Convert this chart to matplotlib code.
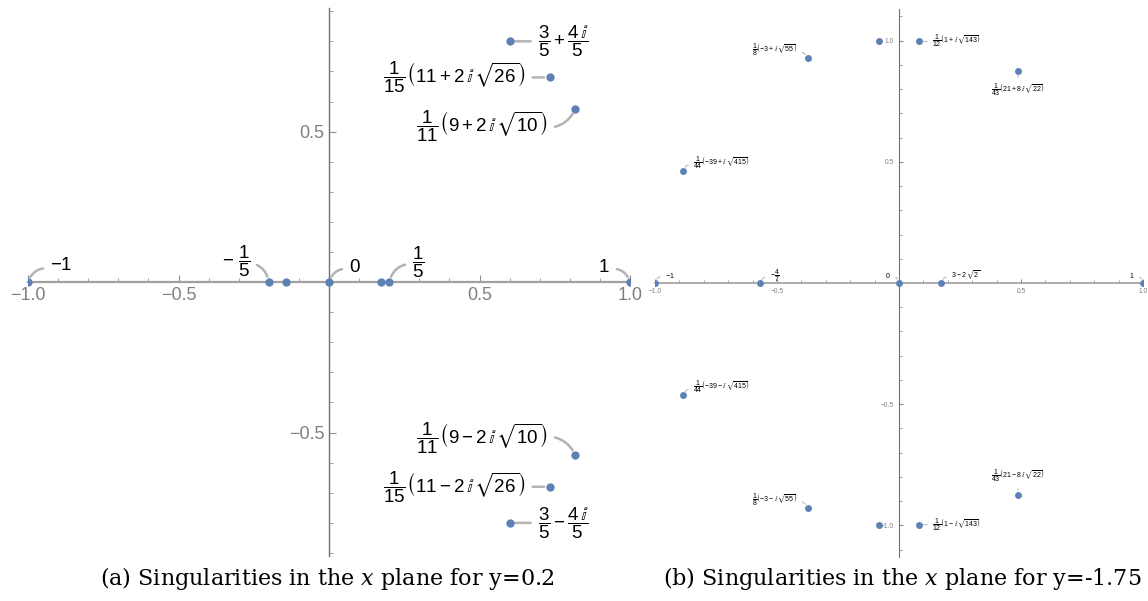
import matplotlib
matplotlib.use('Agg')
import matplotlib.pyplot as plt

plt.rcParams['mathtext.fontset'] = 'custom'
plt.rcParams['mathtext.rm'] = 'Liberation Sans'
plt.rcParams['mathtext.it'] = 'Liberation Sans:italic'
plt.rcParams['mathtext.bf'] = 'Liberation Sans:bold'
plt.rcParams['mathtext.sf'] = 'Liberation Sans'
plt.rcParams['mathtext.fallback'] = 'stixsans'
plt.rcParams['font.family'] = ['Liberation Sans', 'DejaVu Sans']

# ---------------- data ----------------
# panel (a): y = 0.2
a_re = [-1.0, -0.2, -0.143, 0.0, 0.172, 0.2, 1.0,
        0.6, 0.733, 0.818, 0.818, 0.733, 0.6]
a_im = [0.0, 0.0, 0.0, 0.0, 0.0, 0.0, 0.0,
        0.8, 0.680, 0.575, -0.575, -0.680, -0.8]
a_labels = [r'$-1$', r'$-\ \dfrac{1}{5}$', None, r'$0$', None, r'$\dfrac{1}{5}$', r'$1$',
            r'$\dfrac{3}{5}+\dfrac{4\,\mathbb{i}}{5}$',
            r'$\dfrac{1}{15}\left(11+2\,\mathbb{i}\,\sqrt{26}\right)$',
            r'$\dfrac{1}{11}\left(9+2\,\mathbb{i}\,\sqrt{10}\right)$',
            r'$\dfrac{1}{11}\left(9-2\,\mathbb{i}\,\sqrt{10}\right)$',
            r'$\dfrac{1}{15}\left(11-2\,\mathbb{i}\,\sqrt{26}\right)$',
            r'$\dfrac{3}{5}-\dfrac{4\,\mathbb{i}}{5}$']

# panel (b): y = -1.75
b_re = [-1.0, -0.571, 0.0, 0.1716, 1.0,
        0.0833, 0.0833, -0.0833, -0.0833,
        0.488, 0.488, -0.375, -0.375, -0.886, -0.886]
b_im = [0.0, 0.0, 0.0, 0.0, 0.0,
        0.9965, -0.9965, 0.9965, -0.9965,
        0.873, -0.873, 0.927, -0.927, 0.463, -0.463]
b_labels = [r'$-1$', r'$-\dfrac{4}{7}$', r'$0$', r'$3-2\,\sqrt{2}$', r'$1$',
            r'$\dfrac{1}{12}\left(1+\mathbb{i}\,\sqrt{143}\right)$',
            r'$\dfrac{1}{12}\left(1-\mathbb{i}\,\sqrt{143}\right)$',
            None, None,
            r'$\dfrac{1}{43}\left(21+8\,\mathbb{i}\,\sqrt{22}\right)$',
            r'$\dfrac{1}{43}\left(21-8\,\mathbb{i}\,\sqrt{22}\right)$',
            r'$\dfrac{1}{8}\left(-3+\mathbb{i}\,\sqrt{55}\right)$',
            r'$\dfrac{1}{8}\left(-3-\mathbb{i}\,\sqrt{55}\right)$',
            r'$\dfrac{1}{44}\left(-39+\mathbb{i}\,\sqrt{415}\right)$',
            r'$\dfrac{1}{44}\left(-39-\mathbb{i}\,\sqrt{415}\right)$']

x_major = [-1.0, -0.5, 0.5, 1.0]
x_major_labels = ['\u22121.0', '\u22120.5', '0.5', '1.0']
y_major_a = [-0.5, 0.5]
y_major_a_labels = ['\u22120.5', '0.5']
y_major_b = [-1.0, -0.5, 0.5, 1.0]
y_major_b_labels = ['\u22121.0', '\u22120.5', '0.5', '1.0']

captions = ['(a) Singularities in the $x$ plane for y=0.2',
            '(b) Singularities in the $x$ plane for y=-1.75']

# ---------------- style / layout ----------------
DOT = '#5E81B5'
LEAD = '#b3b3b3'

# label placement: (offset px x, offset px y, h-align, curvature, leader start on text box)
a_place = [(22, 17, 'left', 0.4, (0.0, 0.3)), (-33, 21, 'center', -0.4, (0.9, 0.45)), None,
           (20, 15, 'left', 0.4, (0.0, 0.4)), None,
           (29, 20, 'center', 0.4, (0.1, 0.45)), (-20, 15, 'right', -0.4, (1.0, 0.4)),
           (28, 0, 'left', 0.0, (0.0, 0.5)), (-24, 0, 'right', 0.0, (1.0, 0.5)),
           (-27, -17, 'right', 0.3, (1.0, 0.45)),
           (-27, 17, 'right', -0.3, (1.0, 0.55)), (-24, 0, 'right', 0.0, (1.0, 0.5)),
           (28, 0, 'left', 0.0, (0.0, 0.5))]
b_place = [(10, 8, 'left', 0.4, (0.0, 0.4)), (10, 7, 'left', 0.4, (0.0, 0.45)),
           (-8, 8, 'right', -0.4, (1.0, 0.4)), (10, 8, 'left', 0.4, (0.0, 0.4)),
           (-8, 8, 'right', -0.4, (1.0, 0.4)),
           (13, 0, 'left', 0.0, (0.0, 0.5)), (13, 0, 'left', 0.0, (0.0, 0.5)), None, None,
           (0, -19, 'center', 0.0, (0.5, 1.0)), (0, 19, 'center', 0.0, (0.5, 0.0)),
           (-10, 8, 'right', -0.3, (1.0, 0.45)), (-10, 8, 'right', -0.3, (1.0, 0.45)),
           (10, 8, 'left', 0.3, (0.0, 0.45)), (10, 8, 'left', 0.3, (0.0, 0.45))]

W, H = 1148, 601
fig = plt.figure(figsize=(W / 100, H / 100), dpi=100)

axA = fig.add_axes([28 / W, (H - 556) / H, 602 / W, 547.8 / H])
axB = fig.add_axes([655 / W, (H - 557) / H, 488 / W, 548 / H])


def setup(ax, ylim, ymaj, ymaj_lab, ymin_range, fs, maj_len, min_len, lw_x, lw_y):
    ax.set_xlim(-1, 1)
    ax.set_ylim(-ylim, ylim)
    for s in ['top', 'right']:
        ax.spines[s].set_visible(False)
    ax.spines['left'].set_position('zero')
    ax.spines['bottom'].set_position('zero')
    ax.spines['left'].set_color('#707070')
    ax.spines['bottom'].set_color('#a0a0a0')
    ax.spines['left'].set_linewidth(lw_y)
    ax.spines['bottom'].set_linewidth(lw_x)
    ax.set_xticks(x_major)
    ax.set_xticklabels(x_major_labels)
    ax.set_xticks([k / 10 for k in range(-9, 10) if k not in (-5, 0, 5)], minor=True)
    ax.set_yticks(ymaj)
    ax.set_yticklabels(ymaj_lab)
    ax.set_yticks([k / 10 for k in range(-ymin_range, ymin_range + 1) if k % 5 != 0], minor=True)
    ax.tick_params(which='both', direction='in', color='#909090', labelcolor='#808080',
                   labelsize=fs)
    ax.tick_params(which='major', length=maj_len, width=0.8)
    ax.tick_params(which='minor', length=min_len, width=0.6)
    ax.patch.set_visible(False)


def draw(ax, re, im, labels, place, ms, fs, llw, shrinkA, shrinkB):
    ax.plot(re, im, 'o', color=DOT, ms=ms, mew=0, zorder=5)
    for x, y, lab, pl in zip(re, im, labels, place):
        if lab is None:
            continue
        dx, dy, ha, rad, rel = pl
        ax.annotate(lab, xy=(x, y), xytext=(dx, dy), textcoords='offset pixels',
                    ha=ha, va='center', fontsize=fs, color='black',
                    arrowprops=dict(arrowstyle='-', color=LEAD, lw=llw,
                                    shrinkA=shrinkA, shrinkB=shrinkB, relpos=rel,
                                    connectionstyle='arc3,rad=%s' % rad),
                    annotation_clip=False)


setup(axA, 0.91, y_major_a, y_major_a_labels, 9, 13, 5, 3, 1.6, 1.0)
draw(axA, a_re, a_im, a_labels, a_place, 6.0, 13.5, 1.8, 3, 4)

setup(axB, 1.13, y_major_b, y_major_b_labels, 11, 4.8, 3, 2, 1.2, 0.8)
draw(axB, b_re, b_im, b_labels, b_place, 5.0, 5, 0.7, 1.5, 3)

fig.text(327 / W, 0.037, captions[0], ha='center', va='center', fontsize=16,
         family='DejaVu Serif', math_fontfamily='dejavuserif')
fig.text(902 / W, 0.037, captions[1], ha='center', va='center', fontsize=16,
         family='DejaVu Serif', math_fontfamily='dejavuserif')

fig.savefig('out.png', dpi=100)
